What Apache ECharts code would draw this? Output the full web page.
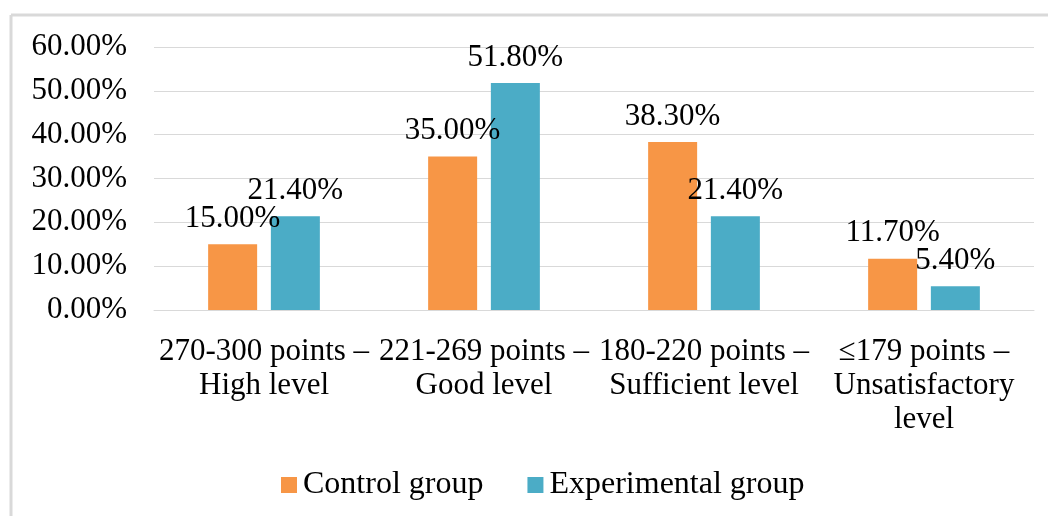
<!DOCTYPE html>
<html>
<head>
<meta charset="utf-8">
<script src="https://cdn.jsdelivr.net/npm/echarts@6/dist/echarts.min.js"></script>
<style>
  html, body { margin: 0; padding: 0; background: #fff; }
  #main { width: 1048px; height: 516px; }
</style>
</head>
<body>
<div id="main"></div>
<script>
let categories = [
    '270-300 points –\nHigh level',
    '221-269 points –\nGood level',
    '180-220 points –\nSufficient level',
    '≤179 points –\nUnsatisfactory\nlevel'
]
let controlGroup = [15.0, 35.0, 38.3, 11.7]
let experimentalGroup = [21.4, 51.8, 21.4, 5.4]
let yTicks = [0, 10, 20, 30, 40, 50, 60]

let font = 'Liberation Serif'
let mychart = echarts.init(document.getElementById('main'))

let pct = v => v.toFixed(2) + '%'

let option = {
    animation: false,
    textStyle: { fontFamily: font },
    graphic: [
        // chart frame (top and left edges are visible)
        { type: 'line', shape: { x1: 11, y1: 15, x2: 1048, y2: 15 }, style: { stroke: '#d9d9d9', lineWidth: 3 } },
        { type: 'line', shape: { x1: 11, y1: 15, x2: 11, y2: 516 }, style: { stroke: '#d9d9d9', lineWidth: 3 } }
    ],
    legend: {
        left: 281,
        top: 469,
        padding: 0,
        itemWidth: 16,
        itemHeight: 16,
        itemGap: 44,
        icon: 'rect',
        textStyle: { fontFamily: font, fontSize: 32, color: '#000', padding: [0, 0, 0, 1] },
        data: ['Control group', 'Experimental group']
    },
    grid: { left: 154, right: 14, top: 47, bottom: 206, containLabel: false },
    xAxis: {
        type: 'category',
        data: categories,
        axisLine: { lineStyle: { color: '#d9d9d9' } },
        axisTick: { show: false },
        axisLabel: {
            margin: 25,
            interval: 0,
            fontFamily: font,
            fontSize: 31,
            lineHeight: 34,
            color: '#000'
        }
    },
    yAxis: {
        type: 'value',
        min: yTicks[0],
        max: yTicks[yTicks.length - 1],
        interval: 10,
        axisLine: { show: false },
        axisTick: { show: false },
        splitLine: { lineStyle: { color: '#d9d9d9', width: 1 } },
        axisLabel: {
            margin: 27,
            fontFamily: font,
            fontSize: 31,
            color: '#000',
            formatter: pct
        }
    },
    series: [
        {
            name: 'Control group',
            type: 'bar',
            data: controlGroup,
            barWidth: 49,
            barGap: '28%',
            itemStyle: { color: '#F79646' },
            label: {
                show: true,
                position: 'top',
                distance: 10,
                fontFamily: font,
                fontSize: 31,
                color: '#000',
                formatter: p => pct(p.value)
            }
        },
        {
            name: 'Experimental group',
            type: 'bar',
            data: experimentalGroup,
            barWidth: 49,
            itemStyle: { color: '#4BACC6' },
            label: {
                show: true,
                position: 'top',
                distance: 10,
                fontFamily: font,
                fontSize: 31,
                color: '#000',
                formatter: p => pct(p.value)
            }
        }
    ]
}
mychart.setOption(option)
</script>
</body>
</html>
